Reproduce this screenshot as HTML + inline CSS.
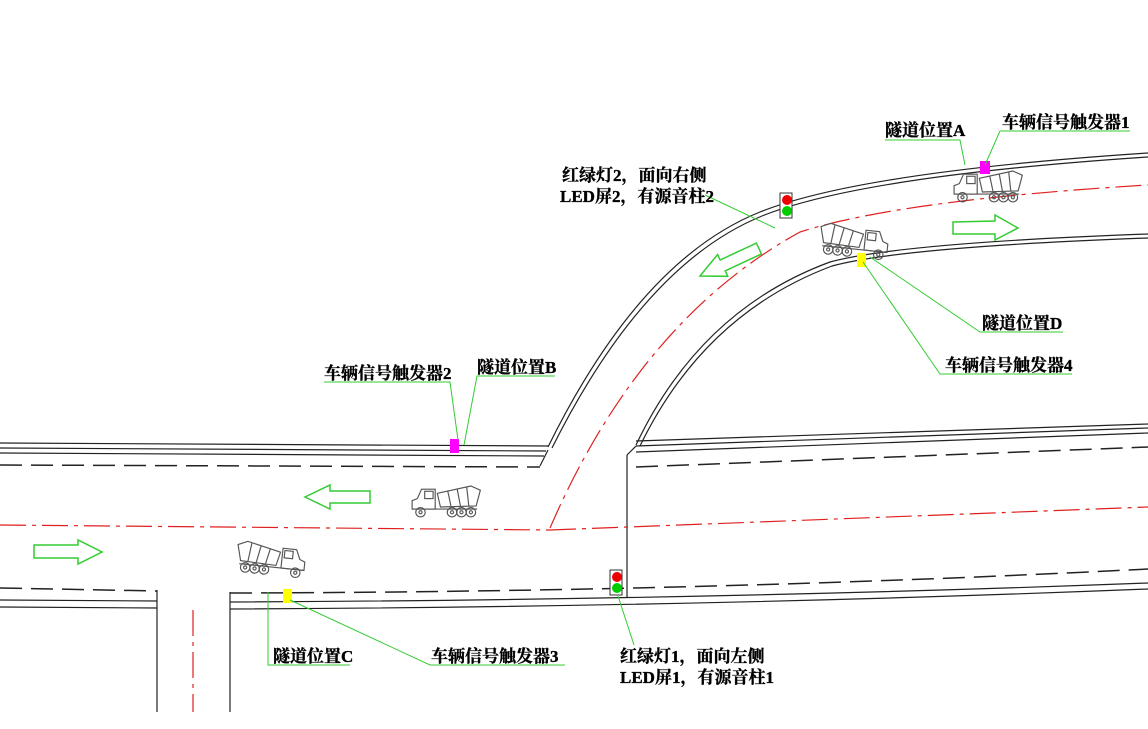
<!DOCTYPE html>
<html><head><meta charset="utf-8"><style>
html,body{margin:0;padding:0;background:#fff;}
svg{display:block;}
text{font-family:"Liberation Serif","Noto Serif CJK SC","Noto Sans CJK SC",serif;font-weight:bold;font-size:17px;fill:#000;stroke:#000;stroke-width:0.35;}
</style></head><body>
<svg width="1148" height="729" viewBox="0 0 1148 729" xmlns="http://www.w3.org/2000/svg">
<defs>
<g id="truck" fill="none" stroke="#555" stroke-width="1.1">
  <path d="M2,22 L2,14 L7,12 L11,3 L24,3 L24,22 Z"/>
  <rect x="14" y="5" width="8" height="7"/>
  <line x1="2" y1="22" x2="64" y2="22"/>
  <path d="M26,7 L58,0 L67,4 L63,19 L29,20 Z"/>
  <line x1="36" y1="5" x2="39" y2="19"/><line x1="45" y1="3" x2="48" y2="19"/><line x1="54" y1="1" x2="56" y2="19"/>
  <circle cx="10" cy="25" r="4.5"/><circle cx="40" cy="25" r="4.5"/><circle cx="49" cy="25" r="4.5"/><circle cx="58" cy="25" r="4.5"/>
  <circle cx="10" cy="25" r="1.5"/><circle cx="40" cy="25" r="1.5"/><circle cx="49" cy="25" r="1.5"/><circle cx="58" cy="25" r="1.5"/>
</g>
<g id="light">
  <rect x="0" y="0" width="12" height="25" fill="#fff" stroke="#333"/>
  <circle cx="7" cy="7" r="5" fill="#e00"/>
  <circle cx="7" cy="18" r="5" fill="#0c0"/>
</g>
</defs>

<g fill="none" stroke="#222" stroke-width="1.2">
  <path d="M0,443 L548,446"/><path d="M0,448 L546,451"/><path d="M0,453 L544,456"/>
  <path d="M540,466 L548,450"/>
  <path d="M548,447 Q640,260 760,212 Q860,172 1148,153"/>
  <path d="M552,448 Q644,264 762,216 Q862,176 1148,157"/>
  <path d="M636,445 Q700,310 830,262 Q900,243 1148,234"/>
  <path d="M640,446 Q704,314 832,266 Q902,247 1148,238"/>
  <path d="M636,441 L1148,424"/><path d="M636,446 L1148,428"/><path d="M636,452 L1148,433"/>
  <line x1="627" y1="455" x2="627" y2="597"/>
  <line x1="627" y1="455" x2="636" y2="446"/>
  <path d="M0,600 L157,601"/><path d="M0,607 L157,608"/>
  <path d="M230,602 Q700,600 1148,583"/><path d="M230,609 Q700,607 1148,589"/>
  <line x1="157" y1="590" x2="157" y2="712"/>
  <line x1="230" y1="592" x2="230" y2="712"/>
</g>
<g fill="none" stroke="#222" stroke-width="1.5" stroke-dasharray="22,9">
  <path d="M0,465 L540,467"/>
  <path d="M636,467 L1148,447"/>
  <path d="M0,588 L157,591"/>
  <path d="M230,593 Q700,592 1148,569"/>
</g>
<g fill="none" stroke="#e02020" stroke-width="1.2" stroke-dasharray="26,6,4,6">
  <path d="M0,525 L550,530"/>
  <path d="M550,530 L1148,507"/>
  <path d="M550,528 Q640,320 800,232 Q900,200 1148,185"/>
  <line x1="193" y1="610" x2="193" y2="712"/>
</g>

<g fill="none" stroke="#3c3" stroke-width="1.5">
  <polygon points="305,497 330,485 330,491 370,491 370,503 330,503 330,509"/>
  <polygon points="34,545 78,545 78,540 102,552 78,564 78,558 34,558"/>
  <polygon points="953,222 995,221 995,215 1018,228 995,240 995,234 953,234"/>
  <polygon points="700,276 725,264 725,270 765,270 765,282 725,282 725,288" transform="rotate(-25 700 276)"/>
</g>

<use href="#truck" transform="translate(410,486) scale(1.05)"/>
<use href="#truck" transform="translate(307,544) scale(-1.05,1.05) rotate(-6 33 15)"/>
<use href="#truck" transform="translate(890,226) scale(-1.05,1.05) rotate(-6 33 15)"/>
<use href="#truck" transform="translate(952,171) scale(1.05)"/>

<use href="#light" x="780" y="193"/>
<use href="#light" x="610" y="570"/>

<rect x="980" y="161" width="10" height="13" fill="#f0f"/>
<rect x="450" y="439" width="9" height="14" fill="#f0f"/>
<rect x="857" y="253" width="9" height="14" fill="#ff0"/>
<rect x="283" y="589" width="9" height="14" fill="#ff0"/>

<g fill="none" stroke="#3c3" stroke-width="1">
  <polyline points="885,140 960,140 965,165"/>
  <polyline points="1130,131 1000,131 985,165"/>
  <line x1="705" y1="195" x2="775" y2="228"/>
  <polyline points="1063,332 980,332 870,257"/>
  <polyline points="1072,374 940,374 863,262"/>
  <polyline points="324,382 450,382 458,440"/>
  <polyline points="555,376 477,376 464,445"/>
  <polyline points="350,665 268,665 268,592"/>
  <polyline points="565,665 430,665 290,600"/>
  <line x1="618" y1="596" x2="634" y2="645"/>
</g>

<text x="885" y="136">隧道位置A</text>
<text x="1002" y="128">车辆信号触发器1</text>
<text x="562" y="181">红绿灯2，面向右侧</text>
<text x="560" y="202">LED屏2，有源音柱2</text>
<text x="982" y="329">隧道位置D</text>
<text x="945" y="371">车辆信号触发器4</text>
<text x="324" y="379">车辆信号触发器2</text>
<text x="477" y="373">隧道位置B</text>
<text x="273" y="662">隧道位置C</text>
<text x="431" y="662">车辆信号触发器3</text>
<text x="620" y="662">红绿灯1，面向左侧</text>
<text x="620" y="683">LED屏1，有源音柱1</text>
</svg>
</body></html>
